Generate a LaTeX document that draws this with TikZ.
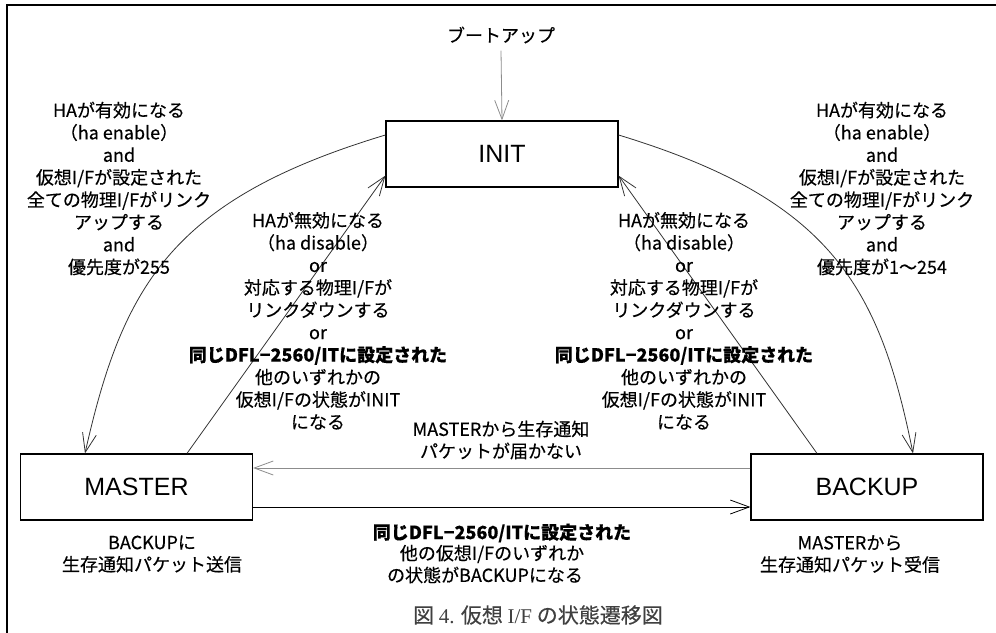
\documentclass[tikz,border=0pt]{standalone}
\usepackage{fontspec}
\setmainfont{Noto Sans CJK JP}[FakeBold=0.35]
\newfontfamily\arialf{Liberation Sans}
\newfontfamily\lserif{Liberation Serif}
\usetikzlibrary{arrows.meta}
\begin{document}
\begin{tikzpicture}[x=1pt,y=-1pt,
  state/.style={draw, line width=1.2pt, minimum width=232pt, minimum height=66pt,
    inner sep=0pt, font=\arialf\fontsize{25}{30}\selectfont},
  lbl/.style={align=center, inner sep=0pt, font=\fontsize{18}{22.4}\selectfont},
  conn/.style={line width=0.8pt, draw=black!80, -{Straight Barb[length=19pt,width=14pt]}},
  greyconn/.style={conn, draw=black!45},
  frame/.style={line width=2.5pt}
]
\useasboundingbox (0,0) rectangle (996,632);
\draw[frame] (7,640) -- (7,5) -- (1000,5);

% states
\node[state] (init) at (502,154) {INIT};
\node[state] (master) at (136.5,487) {MASTER};
\node[state] (backup) at (867,487) {BACKUP};

% boot-up
\node[lbl] (boot) at (501,35) {ブートアップ};
\draw[greyconn] ([yshift=-7pt]boot.south) -- (init.north);

% INIT -> MASTER (arc)
\draw[conn] ([yshift=19pt]init.west) .. controls (173,199) and (123,284) .. ([xshift=-51.5pt]master.north);
% INIT -> BACKUP (arc)
\draw[conn] ([yshift=19pt]init.east) .. controls (829,199) and (879,284) .. ([xshift=46pt]backup.north);
% MASTER -> INIT
\draw[conn] ([xshift=50.5pt]master.north) -- ([yshift=12pt]init.south west);
% BACKUP -> INIT
\draw[conn] ([xshift=-50pt]backup.north) -- ([yshift=12pt]init.south east);
% BACKUP -> MASTER
\draw[greyconn] ([yshift=19pt]backup.west) -- ([yshift=19pt]master.east);
% MASTER -> BACKUP
\draw[conn, draw=black] ([yshift=-20pt]master.east) -- ([yshift=-20pt]backup.west);

% labels
\node[lbl] (lenable) at (119,188.5) {HAが有効になる\\（ha enable）\\and\\仮想I/Fが設定された\\全ての物理I/Fがリンク\\アップする\\and\\優先度が255};
\node[lbl] (renable) at (882,188.5) {HAが有効になる\\（ha enable）\\and\\仮想I/Fが設定された\\全ての物理I/Fがリンク\\アップする\\and\\優先度が1～254};
\node[lbl] (ldisable) at (318,320.8) {HAが無効になる\\（ha disable）\\or\\対応する物理I/Fが\\リンクダウンする\\or\\\textbf{同じDFL−2560/ITに設定された}\\他のいずれかの\\仮想I/Fの状態がINIT\\になる};
\node[lbl] (rdisable) at (684,320.8) {HAが無効になる\\（ha disable）\\or\\対応する物理I/Fが\\リンクダウンする\\or\\\textbf{同じDFL−2560/ITに設定された}\\他のいずれかの\\仮想I/Fの状態がINIT\\になる};
\node[lbl, font=\fontsize{18}{22}\selectfont] (nopkt) at (501,440) {MASTERから生存通知\\パケットが届かない};
\node[lbl] (tobk1) at (502,533) {\textbf{同じDFL−2560/ITに設定された}};
\node[lbl] (tobk2) at (492,554) {他の仮想I/Fのいずれか};
\node[lbl] (tobk3) at (485,575) {の状態がBACKUPになる};
\node[lbl, font=\fontsize{18}{22}\selectfont] (msend) at (152,554) {BACKUPに\\生存通知パケット送信};
\node[lbl, font=\fontsize{18}{22}\selectfont] (brecv) at (850,554) {MASTERから\\生存通知パケット受信};

% caption
\node[lbl, font=\fontsize{21}{25}\selectfont, text=black!75] (caption) at (538,615)
  {図 {\lserif 4.} 仮想 {\lserif I/F} の状態遷移図};
\end{tikzpicture}
\end{document}
